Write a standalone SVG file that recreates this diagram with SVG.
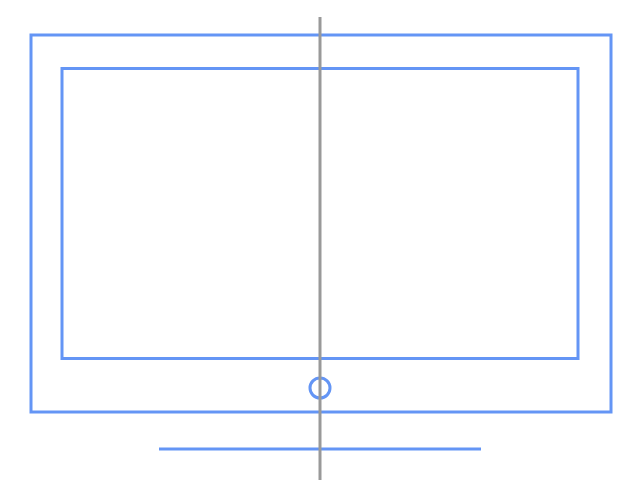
<svg xmlns="http://www.w3.org/2000/svg" width="640" height="480" viewBox="0 0 640 480">
<style>
.b{fill:none;stroke:#6495f5;stroke-width:3}
.g{stroke:#999;stroke-width:3}
</style>
<rect width="640" height="480" fill="#fff"/>
<g id="outer"><rect class="b" x="31" y="35" width="580" height="377"/></g>
<g id="screen"><rect class="b" x="62" y="68.5" width="516" height="290"/></g>
<g id="button"><circle class="b" cx="320" cy="388" r="10"/></g>
<g id="stand"><line class="b" x1="159" y1="449" x2="481" y2="449"/></g>
<g id="connectors"><line class="g" x1="320" y1="17" x2="320" y2="480"/></g>
</svg>
